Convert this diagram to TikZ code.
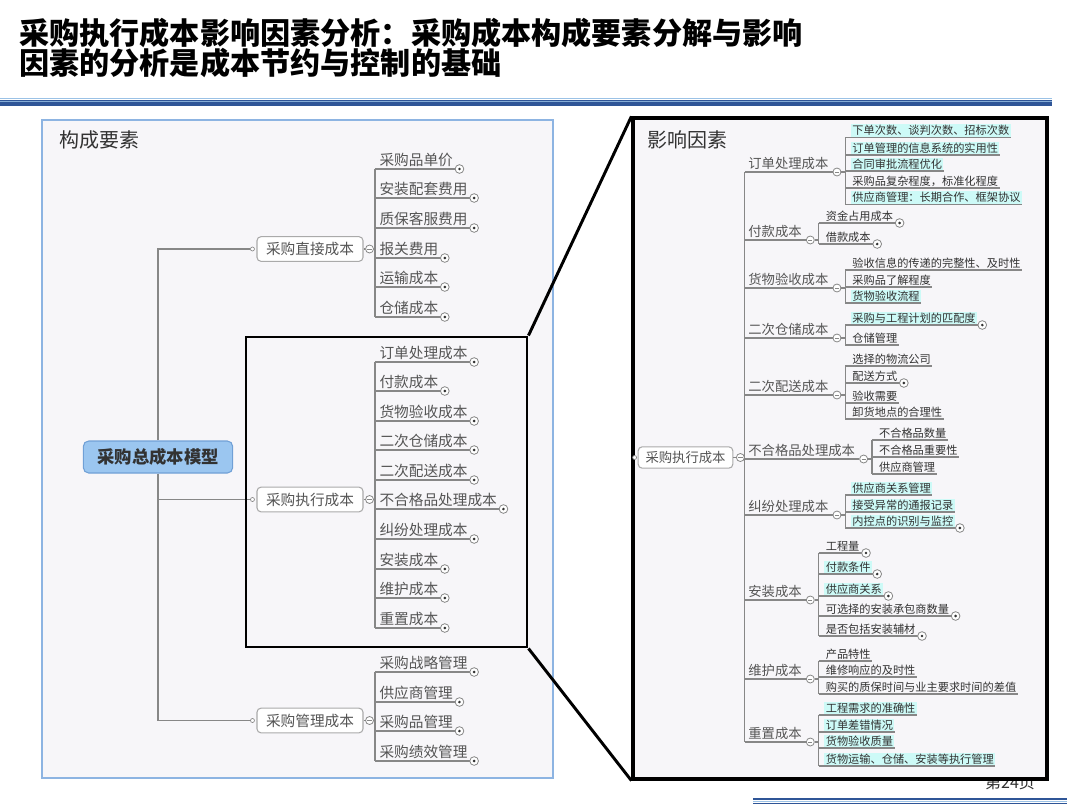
\documentclass[tikz,border=0pt]{standalone}
\usepackage{fontspec}
\setmainfont{Noto Sans CJK SC}
\usetikzlibrary{calc,fit,positioning}
\definecolor{paper}{RGB}{247,246,249}
\definecolor{panelline}{RGB}{141,180,226}
\definecolor{rootfill}{RGB}{155,198,240}
\definecolor{rootline}{RGB}{112,160,214}
\definecolor{boxline}{RGB}{170,170,170}
\definecolor{twiggray}{RGB}{135,135,135}
\definecolor{textgray}{RGB}{85,85,85}
\definecolor{textdark}{RGB}{50,50,50}
\definecolor{hilite}{RGB}{205,250,247}
\definecolor{hdrdark}{RGB}{47,85,151}
\definecolor{hdrlight}{RGB}{155,194,230}

% one group of leaves: prefix, parent mark, stem offset, text offset, {y/text/style/plus}
\newcommand{\leafgroup}[5]{%
  \coordinate (#1-x) at ($(#2.east)+(#3,0)$);
  \draw[twig] (#2.east) -- (#1-x);
  \foreach \y/\txt/\sty/\pl [count=\i] in {#5}{
    \coordinate (#1-s\i) at (#1-x |- 0,\y);
    \node[\sty] (#1-\i) at ($(#1-s\i)+(#4,0)$) {\txt};
    \ifnum\pl=1\relax
      \draw[twig] (#1-s\i) -- ($(#1-\i.south east)+(5,0)$) node[plusmk] (#1-p\i) {};
    \else
      \draw[twig] (#1-s\i) -- (#1-\i.south east);
    \fi
    \xdef\lastleaf{\i}
  }
  \draw[twig] (#1-s1) -- (#1-s\lastleaf);
}

\tikzset{
  twig/.style={draw=twiggray, line width=0.9pt},
  zoomline/.style={draw=black, line width=2.2pt},
  rootbox/.style={draw=rootline, fill=rootfill, rounded corners=4pt, line width=0.8pt,
    minimum width=112pt, minimum height=24pt,
    font=\fontsize{13}{15}\selectfont\bfseries, text=textdark},
  branchbox/.style={draw=boxline, fill=white, rounded corners=3pt, line width=0.8pt,
    minimum width=79.5pt, minimum height=18.5pt,
    font=\fontsize{11}{13}\selectfont, text=textgray},
  bigleaf/.style={anchor=south west, inner xsep=1pt, inner ysep=1.5pt,
    font=\fontsize{11}{13}\selectfont, text=textgray},
  midleaf/.style={anchor=south west, inner xsep=1pt, inner ysep=1.5pt,
    font=\fontsize{10}{12}\selectfont, text=textgray},
  leaf/.style={anchor=south west, inner xsep=1pt, inner ysep=1pt,
    font=\fontsize{8.4}{10}\selectfont, text=textdark},
  leafhl/.style={leaf, fill=hilite},
  minusmk/.style={circle, draw=twiggray, fill=white, inner sep=0pt, minimum size=6pt,
    line width=0.6pt,
    path picture={\draw[twiggray, line width=0.6pt]
      ([xshift=-1.6pt]path picture bounding box.center) --
      ([xshift=1.6pt]path picture bounding box.center);}},
  plusmk/.style={circle, draw=twiggray, fill=white, inner sep=0pt, minimum size=6.5pt,
    line width=0.6pt,
    path picture={\fill[textdark] (path picture bounding box.center) circle (1.1pt);}},
  hollowdot/.style={circle, draw=twiggray, fill=white, inner sep=0pt, minimum size=3pt,
    line width=0.5pt},
}

\begin{document}
\begin{tikzpicture}[x=0.75pt,y=-0.75pt]
\useasboundingbox (0,0) rectangle (1080,810);

% title and header rule
\node[anchor=west, inner sep=0pt, font=\fontsize{22.6}{26}\selectfont\bfseries] (title1)
  at (19,33) {采购执行成本影响因素分析：采购成本构成要素分解与影响};
\node[anchor=west, inner sep=0pt, font=\fontsize{22.6}{26}\selectfont\bfseries] (title2)
  at (19,63) {因素的分析是成本节约与控制的基础};
\draw[hdrlight, line width=1.1pt] (0,98.3) -- (1052,98.3);
\fill[hdrdark] (0,100) rectangle (1052,105.5);
\draw[hdrlight!80!hdrdark, line width=0.5pt] (0,101.8) -- (1052,101.8);

% left panel
\node[fit={(42,120) (553,778)}, inner sep=0pt, draw=panelline, line width=1.1pt,
  fill=paper] (panelL) {};
\node[anchor=west, font=\fontsize{15}{18}\selectfont, text=textdark] (capL)
  at (55,140) {构成要素};

\node[rootbox] (root) at (158,457) {采购总成本模型};
\foreach \b/\y/\lab in {direct/249/采购直接成本, exec/499.5/采购执行成本,
                        mgmt/720.5/采购管理成本}{
  \node[branchbox] (\b) at (310,\y) {\lab};
  \node[hollowdot] (\b-d) at ($(\b.west)+(-4,0)$) {};
  \node[minusmk] (\b-m) at ($(\b.east)+(6,0)$) {};
  \draw[twig] (\b.east) -- (\b-m);
}
\draw[twig] (root.north) -- (root.north |- direct-d) -- (direct-d.west);
\draw[twig] (root.south) -- (root.south |- mgmt-d) -- (mgmt-d.west);
\draw[twig] (root.south |- exec-d) -- (exec-d.west);

\leafgroup{dir}{direct-m}{1}{3}{169/采购品单价/bigleaf/1, 198/安装配套费用/bigleaf/1,
  228/质保客服费用/bigleaf/1, 258/报关费用/bigleaf/1, 287/运输成本/bigleaf/1,
  317/仓储成本/bigleaf/1}
\leafgroup{exe}{exec-m}{1}{3}{362/订单处理成本/bigleaf/1, 391/付款成本/bigleaf/1,
  421/货物验收成本/bigleaf/1, 450/二次仓储成本/bigleaf/1, 480/二次配送成本/bigleaf/1,
  509/不合格品处理成本/bigleaf/1, 539/纠纷处理成本/bigleaf/1, 569/安装成本/bigleaf/1,
  598/维护成本/bigleaf/1, 628/重置成本/bigleaf/1}
\leafgroup{mgt}{mgmt-m}{1}{3}{672/采购战略管理/bigleaf/1, 702/供应商管理/bigleaf/1,
  731/采购品管理/bigleaf/1, 761/采购绩效管理/bigleaf/1}

\node[fit={(246,337) (527,647)}, inner sep=0pt, draw=black, line width=2.2pt] (zoomsrc) {};

% page number, half hidden under the panel
\node[font=\fontsize{12}{14}\selectfont, text=textdark] (pageno) at (1010,782) {第24页};
\draw[hdrdark, line width=1.3pt] (753,799) -- (1067,799);
\draw[hdrlight, line width=1pt] (753,801.2) -- (1067,801.2);
\draw[hdrdark, line width=1.3pt] (753,803.4) -- (1067,803.4);

% right panel
\node[fit={(633,118) (1047,779)}, inner sep=0pt, draw=black, line width=2.4pt,
  fill=paper] (panelR) {};
\node[anchor=west, font=\fontsize{15}{18}\selectfont, text=textdark] (capR)
  at (643,140) {影响因素};

\node[branchbox, minimum width=71pt, minimum height=16pt,
  font=\fontsize{10}{12}\selectfont] (rroot) at (685.5,457.5) {采购执行成本};
\node[hollowdot] (rroot-d) at ($(rroot.west)+(-3,0)$) {};
\node[minusmk] (rroot-m) at ($(rroot.east)+(7,0)$) {};
\draw[twig] (rroot.east) -- (rroot-m);

\foreach \g/\y/\lab [count=\i] in {ord/172/订单处理成本, pay/240/付款成本,
    rec/288/货物验收成本, sto/338/二次仓储成本, dis/395/二次配送成本,
    rej/459/不合格品处理成本, dsp/515/纠纷处理成本, ins/600/安装成本,
    mnt/679/维护成本, rep/742/重置成本}{
  \coordinate (k\i) at (rroot-m.east |- 0,\y);
  \node[midleaf] (\g) at ($(k\i)+(2,0)$) {\lab};
  \node[minusmk] (\g-m) at ($(\g.south east)+(7,0)$) {};
  \draw[twig] (k\i) -- (\g-m);
}
\draw[twig] (k1) -- (k10);

\leafgroup{ordl}{ord-m}{4}{5.5}{137.5/下单次数、谈判次数、招标次数/leafhl/0,
  155/订单管理的信息系统的实用性/leafhl/0, 171/合同审批流程优化/leafhl/0,
  188/采购品复杂程度，标准化程度/leaf/0, 204.5/供应商管理：长期合作、框架协议/leafhl/0}
\leafgroup{payl}{pay-m}{4}{5.5}{223/资金占用成本/leaf/1, 244/借款成本/leaf/1}
\leafgroup{recl}{rec-m}{4}{5.5}{270/验收信息的传递的完整性、及时性/leaf/0,
  287/采购品了解程度/leaf/0, 303/货物验收流程/leafhl/0}
\leafgroup{stol}{sto-m}{4}{5.5}{325/采购与工程计划的匹配度/leafhl/1, 345/仓储管理/leaf/0}
\leafgroup{disl}{dis-m}{4}{5.5}{366/选择的物流公司/leaf/0, 383/配送方式/leaf/1,
  403/验收需要/leaf/0, 419/卸货地点的合理性/leaf/0}
\leafgroup{rejl}{rej-m}{4}{5.5}{440/不合格品数量/leaf/0, 457/不合格品重要性/leaf/0,
  474/供应商管理/leaf/0}
\leafgroup{dspl}{dsp-m}{4}{5.5}{495/供应商关系管理/leafhl/0, 512/接受异常的通报记录/leafhl/0,
  528/内控点的识别与监控/leafhl/1}
\leafgroup{insl}{ins-m}{4}{5.5}{553/工程量/leaf/1, 574/付款条件/leafhl/1,
  596/供应商关系/leafhl/1, 616/可选择的安装承包商数量/leaf/1, 636/是否包括安装辅材/leaf/1}
\leafgroup{mntl}{mnt-m}{4}{5.5}{661/产品特性/leaf/0, 677/维修响应的及时性/leaf/0,
  694/购买的质保时间与业主要求时间的差值/leaf/0}
\leafgroup{repl}{rep-m}{4}{5.5}{715/工程需求的准确性/leafhl/0, 732/订单差错情况/leafhl/0,
  748/货物验收质量/leafhl/0, 766/货物运输、仓储、安装等执行管理/leafhl/0}

% zoom lines
\draw[zoomline] (zoomsrc.north east) -- (panelR.north west);
\draw[zoomline] (zoomsrc.south east) -- (panelR.south west);

\end{tikzpicture}
\end{document}
